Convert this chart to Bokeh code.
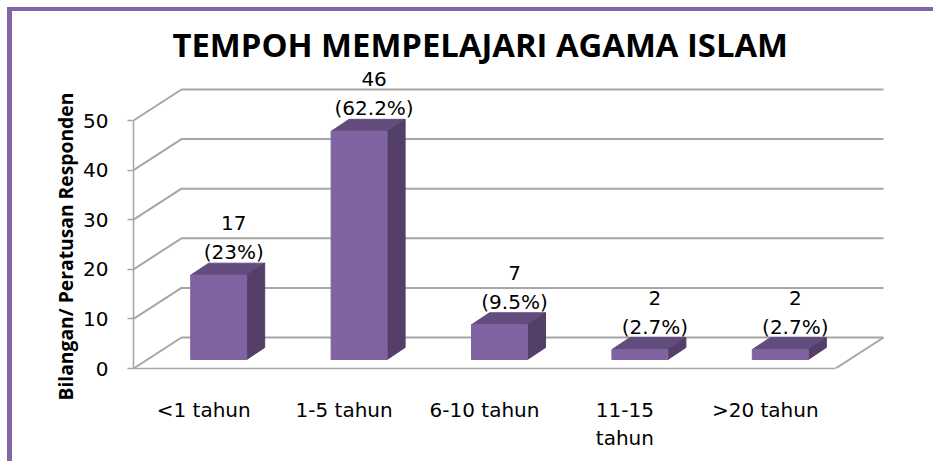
from bokeh.plotting import figure
from bokeh.models import FixedTicker, Title
from bokeh.core.properties import value
from bokeh.embed import file_html
from bokeh.resources import INLINE

categories = ["<1 tahun", "1-5 tahun", "6-10 tahun", "11-15\ntahun", ">20 tahun"]
counts = [17, 46, 7, 2, 2]
percents = ["(23%)", "(62.2%)", "(9.5%)", "(2.7%)", "(2.7%)"]
y_ticks = [0, 10, 20, 30, 40, 50]

PAGE_W, PAGE_H = 938, 465
MARGIN_L, MARGIN_T, BORDER_L, BORDER_T = 7, 7, 5, 4
W, H = PAGE_W - MARGIN_L - BORDER_L, PAGE_H - MARGIN_T - BORDER_T
LEFT, TOP, BOTTOM = 133 - MARGIN_L - BORDER_L, 60 - MARGIN_T - BORDER_T, PAGE_H - 368
PX_X, PX_Y = 140.4, 4.96          # pixels per category / per count
frame_w, frame_h = W - LEFT, H - TOP - BOTTOM
FONT = "DejaVu Sans"
BOLD = "Open Sans"
GRID = "#A6A6A6"
PURPLE = "#8565A5"

def dx(px): return px / PX_X
def dy(px): return px / PX_Y

p = figure(width=W, height=H, output_backend="svg", toolbar_location=None,
           x_range=(-0.5, -0.5 + dx(frame_w)), y_range=(0, dy(frame_h)),
           min_border_left=LEFT, min_border_top=TOP, min_border_bottom=BOTTOM, min_border_right=0,
           title="TEMPOH MEMPELAJARI AGAMA ISLAM", background_fill_color="white", border_fill_color="white",
           margin=(MARGIN_T, 0, 0, MARGIN_L),
           styles={"border-left": f"{BORDER_L}px solid {PURPLE}", "border-top": f"{BORDER_T}px solid {PURPLE}"})
p.outline_line_color = None
p.grid.visible = False
p.title.align = "left"
p.title.text_font = BOLD
p.title.text_font_size = "32.8px"
p.title.text_font_style = "bold"
p.title.text_color = "black"
p.title.offset = 39
p.title.standoff = -13

# axes
ax = p.xaxis[0]
ax.ticker = FixedTicker(ticks=list(range(len(categories))))
ax.major_label_overrides = {i: c for i, c in enumerate(categories)}
ax.bounds = (-0.5, len(categories) - 0.5)
ax.major_tick_line_color = None
ax.minor_tick_line_color = None
ax.axis_line_color = GRID
ax.axis_line_width = 1.5
ax.major_label_standoff = 23
ax.major_label_text_font = FONT
ax.major_label_text_font_size = "20px"
ax.major_label_text_color = "black"

ay = p.yaxis[0]
ay.ticker = FixedTicker(ticks=y_ticks)
ay.bounds = (0, 50)
ay.minor_tick_line_color = None
ay.major_tick_in = 0
ay.major_tick_out = 6
ay.major_tick_line_color = GRID
ay.major_tick_line_width = 1.5
ay.axis_line_color = GRID
ay.axis_line_width = 1.5
ay.major_label_standoff = 19
ay.major_label_text_font = FONT
ay.major_label_text_font_size = "20px"
ay.major_label_text_color = "black"

# 3D wall and floor lines
DEPTH_X, DEPTH_Y = dx(48), dy(31)
x0, x1 = -0.5, len(categories) - 0.5
xs = [[x0, x0 + DEPTH_X, x1 + DEPTH_X] for _ in y_ticks] + [[x1, x1 + DEPTH_X]]
ys = [[t, t + DEPTH_Y, t + DEPTH_Y] for t in y_ticks] + [[0, DEPTH_Y]]
p.multi_line(xs, ys, line_color=GRID, line_width=2)

# bars
BW = dx(56); BOFF = dx(15); BBASE = dy(9); BDX = dx(18); BDY = dy(12)
lefts = [i + BOFF - BW / 2 for i in range(len(counts))]
rights = [l + BW for l in lefts]
bottoms = [BBASE] * len(counts)
tops = [BBASE + v for v in counts]

p.patches([[l, r, r + BDX, l + BDX] for l, r in zip(lefts, rights)],
          [[t, t, t + BDY, t + BDY] for t in tops],
          fill_color="#634D7E", line_color="#634D7E")
p.patches([[r, r + BDX, r + BDX, r] for r in rights],
          [[BBASE, BBASE + BDY, t + BDY, t] for t in tops],
          fill_color="#533F68", line_color="#533F68")
p.quad(left=lefts, right=rights, bottom=bottoms, top=tops, fill_color="#8063A1", line_color="#8063A1")

# data labels
lx = [i + BOFF + dx(15) for i in range(len(counts))]
ly = [t + BDY for t in tops]
p.text(lx, ly, text=[str(v) for v in counts], text_align="center", text_baseline="middle",
       text_font=value(FONT), text_font_size="20px", text_color="black", y_offset=-40)
p.text(lx, ly, text=percents, text_align="center", text_baseline="middle",
       text_font=value(FONT), text_font_size="20px", text_color="black", y_offset=-11)

# rotated axis title
p.add_layout(Title(text="Bilangan/ Peratusan Responden", align="left", offset=-32, standoff=3,
                   text_font=BOLD, text_font_style="bold", text_font_size="19.3px", text_color="black"), "left")

open("out.html", "w").write(file_html(p, INLINE))
